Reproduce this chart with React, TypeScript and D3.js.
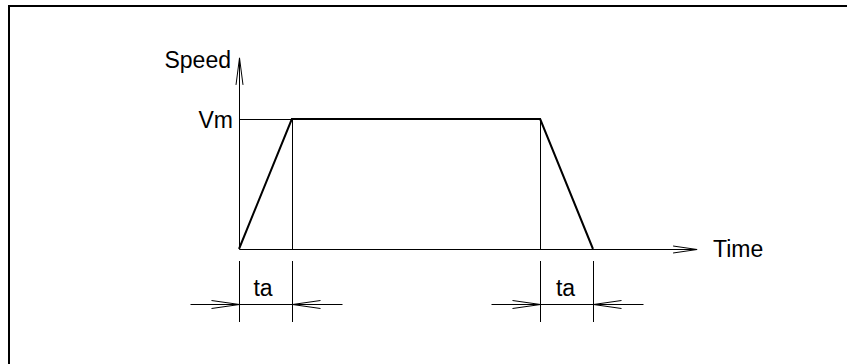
import React from 'react';
import * as d3 from 'd3';

// trapezoidal speed profile: accel for ta, cruise at Vm, decel for ta
const profileTime = [0, 1, 5.7, 6.7];
const profileSpeed = [0, 1, 1, 0];
const ta = 1;
const axisLabels = { x: 'Time', y: 'Speed', vm: 'Vm', ta: 'ta' };

const W = 847;
const H = 364;

const App = () => {
  const ref = React.useRef<SVGSVGElement | null>(null);

  React.useEffect(() => {
    const svg = d3.select(ref.current);
    svg.selectAll('*').remove();

    const x = d3.scaleLinear().domain([0, 6.7]).range([239, 593]);
    const y = d3.scaleLinear().domain([0, 1]).range([249, 119]);
    const font = "'Liberation Sans', Arial, sans-serif";

    // frame (only top and left edges are in view)
    svg.append('path')
      .attr('d', `M9,${H} L9,6 L${W},6`)
      .attr('fill', 'none')
      .attr('stroke', '#000')
      .attr('stroke-width', 2);

    const line = (x1: number, y1: number, x2: number, y2: number, w = 1) =>
      svg.append('line')
        .attr('x1', x1).attr('y1', y1).attr('x2', x2).attr('y2', y2)
        .attr('stroke', '#000').attr('stroke-width', w);

    const x0 = Math.round(x(0)) + 0.5;
    const y0 = Math.round(y(0)) + 0.5;
    const yTop = y(1.47);
    const xEnd = x(8.67);

    // axes
    line(x0, y0, x0, yTop);
    line(x0, y0, xEnd, y0);
    // open arrow heads
    svg.append('path')
      .attr('d', `M${x0 - 3.5},${yTop + 27} L${x0},${yTop} L${x0 + 3.5},${yTop + 27}`)
      .attr('fill', 'none').attr('stroke', '#000').attr('stroke-width', 1);
    svg.append('path')
      .attr('d', `M${xEnd - 24},${y0 - 3.5} L${xEnd},${y0} L${xEnd - 24},${y0 + 3.5}`)
      .attr('fill', 'none').attr('stroke', '#000').attr('stroke-width', 1);

    const yVm = Math.round(y(1)) + 0.5;
    // Vm guide and vertical guides
    line(x0, yVm, x(profileTime[1]), yVm);
    [profileTime[1], profileTime[2]].forEach(t => {
      const xx = Math.round(x(t)) + 0.5;
      line(xx, yVm, xx, y0);
    });

    // the profile
    const pts = profileTime.map((t, i) => [x(t), y(profileSpeed[i])] as [number, number]);
    svg.append('path')
      .attr('d', d3.line()(pts))
      .attr('fill', 'none')
      .attr('stroke', '#000')
      .attr('stroke-width', 2)
      .attr('stroke-linejoin', 'miter');

    // dimension marks for ta
    const dims = [[profileTime[0], profileTime[0] + ta], [profileTime[2], profileTime[2] + ta]];
    dims.forEach(([a, b], k) => {
      const xa = Math.round(x(a)) + 0.5;
      const xb = Math.round(x(b)) + 0.5;
      const yd = 304.5;
      line(xa, 261, xa, 322);
      line(xb, 261, xb, 322);
      line(xa - 49, yd, xb + 50, yd);
      svg.append('path')
        .attr('d', `M${xa - 28},${yd - 4} L${xa},${yd} L${xa - 28},${yd + 4}`)
        .attr('fill', 'none').attr('stroke', '#000').attr('stroke-width', 1);
      svg.append('path')
        .attr('d', `M${xb + 28},${yd - 4} L${xb},${yd} L${xb + 28},${yd + 4}`)
        .attr('fill', 'none').attr('stroke', '#000').attr('stroke-width', 1);
      svg.append('text')
        .attr('x', (xa + xb) / 2 - (k === 0 ? 3 : 1.5))
        .attr('y', 296)
        .attr('text-anchor', 'middle')
        .attr('font-family', font)
        .attr('font-size', 23)
        .text(axisLabels.ta);
    });

    // labels
    svg.append('text')
      .attr('x', 231).attr('y', 68)
      .attr('text-anchor', 'end')
      .attr('font-family', font).attr('font-size', 23)
      .text(axisLabels.y);
    svg.append('text')
      .attr('x', 233).attr('y', 128)
      .attr('text-anchor', 'end')
      .attr('font-family', font).attr('font-size', 23)
      .text(axisLabels.vm);
    svg.append('text')
      .attr('x', 713).attr('y', 257)
      .attr('font-family', font).attr('font-size', 23)
      .text(axisLabels.x);
  }, []);

  return (
    <svg
      ref={ref}
      width={W}
      height={H}
      style={{ position: 'absolute', left: 0, top: 0, background: '#fff' }}
    />
  );
};

export default App;
